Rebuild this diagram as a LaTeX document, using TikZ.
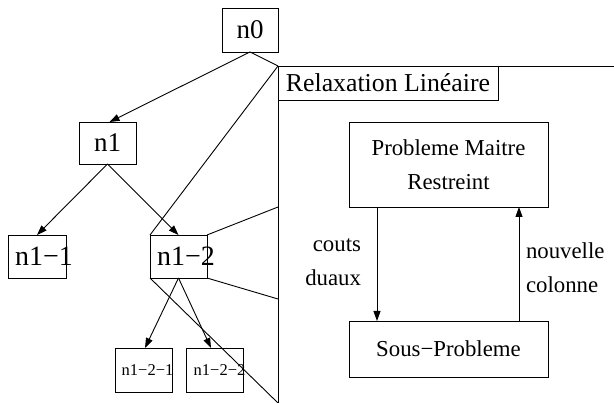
\documentclass[tikz,border=0pt]{standalone}
\usepackage{fontspec}
\setmainfont{Liberation Serif}
\usetikzlibrary{arrows.meta}
\begin{document}
\begin{tikzpicture}[x=1pt,y=-1pt,
  every node/.style={inner sep=0pt, outer sep=0pt},
  box/.style={draw, line width=0.9pt, rectangle},
  big/.style={font=\fontsize{27}{30}\selectfont},
  huge/.style={font=\fontsize{28}{30}\selectfont},
  small/.style={font=\fontsize{16.5}{18}\selectfont},
  lbl/.style={font=\fontsize{22.8}{34}\selectfont},
  ln/.style={line width=0.9pt},
  arr/.style={line width=0.9pt, -{Triangle[length=10pt,width=7pt]}}]
\useasboundingbox (0,0) rectangle (614,403);
% tree nodes
\node[box, big, minimum width=56pt, minimum height=44pt] (n0) at (250,30) {n0};
\node[box, big, minimum width=57pt, minimum height=42pt] (n1) at (107.5,143) {n1};
\node[box, minimum width=58pt, minimum height=43pt] (n11) at (37,256.5) {};
\node[huge] (n11t) at (44,256.5) {n1−1};
\node[box, minimum width=57pt, minimum height=43pt] (n12) at (178.5,256.5) {};
\node[huge] (n12t) at (186,256.5) {n1−2};
\node[box, minimum width=57pt, minimum height=44pt] (n121) at (143.5,370) {};
\node[small] (n121t) at (147.5,370) {n1−2−1};
\node[box, minimum width=57pt, minimum height=44pt] (n122) at (214.5,370) {};
\node[small] (n122t) at (219.5,370) {n1−2−2};
% tree arrows
\draw[arr] (n0.south) -- ([xshift=2pt]n1.north);
\draw[arr] (n1.south) -- (n11.north);
\draw[arr] (n1.south) -- (n12.north);
\draw[arr] (n12.south) -- ([xshift=1.5pt]n121.north);
\draw[arr] (n12.south) -- ([xshift=-3.5pt]n122.north);
% panel frame
\coordinate (corner) at (278,66);
\coordinate (topend) at (614,66);
\coordinate (botend) at (278,403);
\coordinate (pa) at (278,207);
\coordinate (pb) at (278,299);
\draw[ln] (topend) -- (corner) -- (botend);
\node[box, font=\fontsize{25.8}{30}\selectfont, minimum width=220pt, minimum height=34pt] (relax) at (388,83) {Relaxation Linéaire};
% zoom projection lines
\draw[ln] (n0.south) -- (corner);
\draw[ln] (n12.north west) -- (corner);
\draw[ln] (n12.north east) -- (pa);
\draw[ln] (n12.south east) -- (pb);
\draw[ln] (n12.south west) -- (botend);
% column generation
\node[box, lbl, align=center, minimum width=199pt, minimum height=85pt] (pmr) at (448.5,164.5) {Probleme Maitre\\Restreint};
\node[box, lbl, minimum width=199pt, minimum height=56pt] (sp) at (448.5,349) {Sous−Probleme};
\draw[arr] ([xshift=-71.5pt]pmr.south) -- ([xshift=-71.5pt]sp.north);
\draw[arr] ([xshift=70.5pt]sp.north) -- ([xshift=70.5pt]pmr.south);
\node[lbl, align=right, anchor=east] (cd) at (361,262) {couts\\duaux};
\node[lbl, align=left, anchor=west] (nc) at (526,268) {nouvelle\\colonne};
\end{tikzpicture}
\end{document}
